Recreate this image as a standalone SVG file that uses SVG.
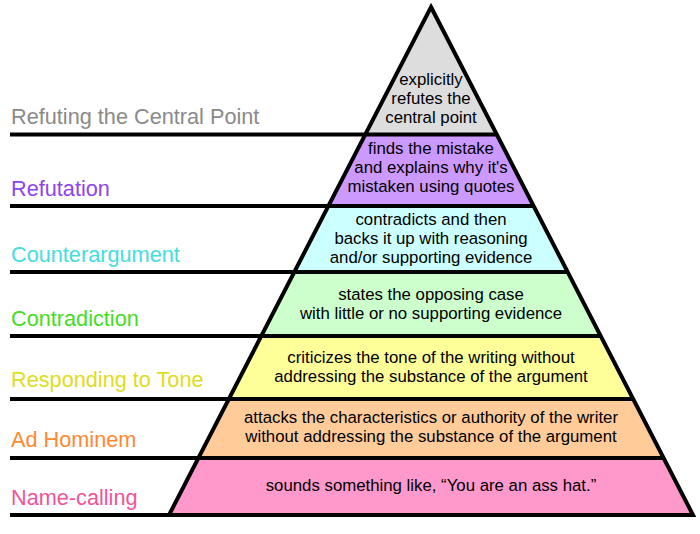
<svg xmlns="http://www.w3.org/2000/svg" width="700" height="534" viewBox="0 0 700 534">
<style>
.lbl{font-family:"Liberation Sans",Arial,sans-serif;font-size:21.7px}
.txt{font-family:"Liberation Sans",Arial,sans-serif;font-size:16.8px;fill:#000;text-anchor:middle}
.band{stroke:none}
.rule{stroke:#000;stroke-width:4;fill:none}
</style>
<rect width="700" height="534" fill="#fff"/>
<g id="refuting-central-point">
<polygon class="band" fill="#dddddd" points="431,7 496.8,134.5 365.2,134.5"/>
<text class="txt" x="431" y="84.5">explicitly</text>
<text class="txt" x="431" y="103.5">refutes the</text>
<text class="txt" x="431" y="122.5">central point</text>
<text class="lbl" x="11" y="124" fill="#8a8a8a">Refuting the Central Point</text>
</g>
<g id="refutation">
<polygon class="band" fill="#cc99ff" points="365.2,134.5 496.8,134.5 533.6,206 328.4,206"/>
<text class="txt" x="431" y="154">finds the mistake</text>
<text class="txt" x="431" y="173">and explains why it's</text>
<text class="txt" x="431" y="192">mistaken using quotes</text>
<text class="lbl" x="11" y="195.5" fill="#8e44ee">Refutation</text>
</g>
<g id="counterargument">
<polygon class="band" fill="#ccffff" points="328.4,206 533.6,206 567.7,272 294.3,272"/>
<text class="txt" x="431" y="225">contradicts and then</text>
<text class="txt" x="431" y="244">backs it up with reasoning</text>
<text class="txt" x="431" y="263">and/or supporting evidence</text>
<text class="lbl" x="11" y="261.5" fill="#44dddd">Counterargument</text>
</g>
<g id="contradiction">
<polygon class="band" fill="#ccffcc" points="294.3,272 567.7,272 600.7,336 261.3,336"/>
<text class="txt" x="431" y="300">states the opposing case</text>
<text class="txt" x="431" y="319">with little or no supporting evidence</text>
<text class="lbl" x="11" y="325.5" fill="#44dd22">Contradiction</text>
</g>
<g id="responding-to-tone">
<polygon class="band" fill="#ffff99" points="261.3,336 600.7,336 633.2,399 228.8,399"/>
<text class="txt" x="431" y="363">criticizes the tone of the writing without</text>
<text class="txt" x="431" y="382">addressing the substance of the argument</text>
<text class="lbl" x="11" y="387" fill="#dddd22">Responding to Tone</text>
</g>
<g id="ad-hominem">
<polygon class="band" fill="#ffcc99" points="228.8,399 633.2,399 663.6,458 198.4,458"/>
<text class="txt" x="431" y="422.5">attacks the characteristics or authority of the writer</text>
<text class="txt" x="431" y="441.5">without addressing the substance of the argument</text>
<text class="lbl" x="11" y="447" fill="#ff8833">Ad Hominem</text>
</g>
<g id="name-calling">
<polygon class="band" fill="#ff99cc" points="198.4,458 663.6,458 693,515 169,515"/>
<text class="txt" x="431" y="491">sounds something like, “You are an ass hat.”</text>
<text class="lbl" x="11" y="505" fill="#ee5599">Name-calling</text>
</g>
<g id="connectors">
<polygon class="rule" stroke-linejoin="miter" points="431,7 693,515 169,515"/>
<line class="rule" x1="10" y1="134.5" x2="496.8" y2="134.5"/>
<line class="rule" x1="10" y1="206" x2="533.6" y2="206"/>
<line class="rule" x1="10" y1="272" x2="567.7" y2="272"/>
<line class="rule" x1="10" y1="336" x2="600.7" y2="336"/>
<line class="rule" x1="10" y1="399" x2="633.2" y2="399"/>
<line class="rule" x1="10" y1="458" x2="663.6" y2="458"/>
<line class="rule" x1="10" y1="515" x2="693" y2="515"/>
</g>
</svg>
